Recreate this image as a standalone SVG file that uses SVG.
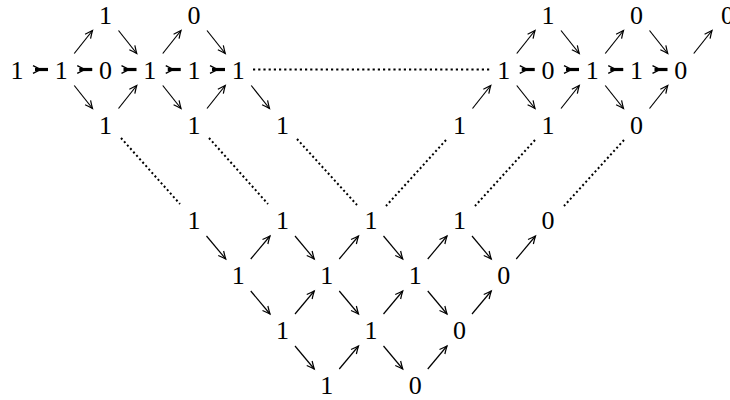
<svg xmlns="http://www.w3.org/2000/svg" xmlns:xlink="http://www.w3.org/1999/xlink" width="730" height="400" viewBox="0 0 730 400">
<style>
text{font-family:"Liberation Serif","DejaVu Serif",serif;font-size:26px;fill:#000;text-anchor:middle}
.d{stroke:#000;stroke-width:1.2;fill:none;marker-end:url(#ah)}
.dh{stroke:#000;stroke-width:2.2;stroke-dasharray:2.2 3;fill:none}
.dd{stroke:#000;stroke-width:2;stroke-dasharray:2 2.6;fill:none}
</style>
<defs>
<marker id="ah" markerUnits="userSpaceOnUse" viewBox="-9 -6 12 12" markerWidth="12" markerHeight="12" refX="0" refY="0" orient="auto">
<path d="M-7.5,-3.5 Q-2.5,-1 0,0 Q-2.5,1 -7.5,3.5" fill="none" stroke="#000" stroke-width="1.2"/>
</marker>
<g id="ha">
<path d="M0,-3.8 L7.5,0 L0,3.8" fill="none" stroke="#000" stroke-width="1.4"/>
<line x1="2" y1="0" x2="15" y2="0" stroke="#000" stroke-width="3.2"/>
</g>
</defs>
<g id="connectors">
<use xlink:href="#ha" x="33" y="69.5"/>
<use xlink:href="#ha" x="77.25" y="69.5"/>
<use xlink:href="#ha" x="121.5" y="69.5"/>
<use xlink:href="#ha" x="165.75" y="69.5"/>
<use xlink:href="#ha" x="210" y="69.5"/>
<use xlink:href="#ha" x="519.75" y="69.5"/>
<use xlink:href="#ha" x="564" y="69.5"/>
<use xlink:href="#ha" x="608.25" y="69.5"/>
<use xlink:href="#ha" x="652.5" y="69.5"/>
<line class="d" x1="74.25" y1="53.5" x2="92.5" y2="30.5"/>
<line class="d" x1="118.5" y1="30.5" x2="136.75" y2="53.5"/>
<line class="d" x1="74.25" y1="85.5" x2="92.5" y2="108.5"/>
<line class="d" x1="118.5" y1="108.5" x2="136.75" y2="85.5"/>
<line class="d" x1="162.75" y1="53.5" x2="181" y2="30.5"/>
<line class="d" x1="207" y1="30.5" x2="225.25" y2="53.5"/>
<line class="d" x1="162.75" y1="85.5" x2="181" y2="108.5"/>
<line class="d" x1="207" y1="108.5" x2="225.25" y2="85.5"/>
<line class="d" x1="251.25" y1="85.5" x2="269.5" y2="108.5"/>
<line class="d" x1="472.5" y1="108.5" x2="490.75" y2="85.5"/>
<line class="d" x1="516.75" y1="53.5" x2="535" y2="30.5"/>
<line class="d" x1="561" y1="30.5" x2="579.25" y2="53.5"/>
<line class="d" x1="516.75" y1="85.5" x2="535" y2="108.5"/>
<line class="d" x1="561" y1="108.5" x2="579.25" y2="85.5"/>
<line class="d" x1="605.25" y1="53.5" x2="623.5" y2="30.5"/>
<line class="d" x1="649.5" y1="30.5" x2="667.75" y2="53.5"/>
<line class="d" x1="605.25" y1="85.5" x2="623.5" y2="108.5"/>
<line class="d" x1="649.5" y1="108.5" x2="667.75" y2="85.5"/>
<line class="d" x1="693.75" y1="53.5" x2="712" y2="30.5"/>
<line class="d" x1="206.5" y1="236" x2="225.75" y2="259"/>
<line class="d" x1="250.75" y1="259" x2="270" y2="236"/>
<line class="d" x1="295" y1="236" x2="314.25" y2="259"/>
<line class="d" x1="339.25" y1="259" x2="358.5" y2="236"/>
<line class="d" x1="383.5" y1="236" x2="402.75" y2="259"/>
<line class="d" x1="427.75" y1="259" x2="447" y2="236"/>
<line class="d" x1="472" y1="236" x2="491.25" y2="259"/>
<line class="d" x1="516.25" y1="259" x2="535.5" y2="236"/>
<line class="d" x1="250.75" y1="291" x2="270" y2="314"/>
<line class="d" x1="295" y1="314" x2="314.25" y2="291"/>
<line class="d" x1="339.25" y1="291" x2="358.5" y2="314"/>
<line class="d" x1="383.5" y1="314" x2="402.75" y2="291"/>
<line class="d" x1="427.75" y1="291" x2="447" y2="314"/>
<line class="d" x1="472" y1="314" x2="491.25" y2="291"/>
<line class="d" x1="295" y1="346" x2="314.25" y2="369"/>
<line class="d" x1="339.25" y1="369" x2="358.5" y2="346"/>
<line class="d" x1="383.5" y1="346" x2="402.75" y2="369"/>
<line class="d" x1="427.75" y1="369" x2="447" y2="346"/>
<line class="dh" x1="253" y1="69.5" x2="492" y2="69.5"/>
<line class="dd" x1="121" y1="138" x2="180" y2="204"/>
<line class="dd" x1="209" y1="138" x2="268" y2="204"/>
<line class="dd" x1="297" y1="139" x2="357" y2="205"/>
<line class="dd" x1="446" y1="140" x2="386" y2="206"/>
<line class="dd" x1="535" y1="140" x2="475" y2="206"/>
<line class="dd" x1="624" y1="140" x2="564" y2="206"/>
</g>
<g id="n_t2"><text x="105.5" y="23.5">1</text></g>
<g id="n_t4"><text x="194" y="23.5">0</text></g>
<g id="n_m0"><text x="17" y="78.5">1</text></g>
<g id="n_m1"><text x="61.25" y="78.5">1</text></g>
<g id="n_m2"><text x="105.5" y="78.5">0</text></g>
<g id="n_m3"><text x="149.75" y="78.5">1</text></g>
<g id="n_m4"><text x="194" y="78.5">1</text></g>
<g id="n_m5"><text x="238.25" y="78.5">1</text></g>
<g id="n_b2"><text x="105.5" y="133.5">1</text></g>
<g id="n_b4"><text x="194" y="133.5">1</text></g>
<g id="n_b6"><text x="282.5" y="133.5">1</text></g>
<g id="n_t12"><text x="548" y="23.5">1</text></g>
<g id="n_t14"><text x="636.5" y="23.5">0</text></g>
<g id="n_t16"><text x="727.5" y="23.5">0</text></g>
<g id="n_m11"><text x="503.75" y="78.5">1</text></g>
<g id="n_m12"><text x="548" y="78.5">0</text></g>
<g id="n_m13"><text x="592.25" y="78.5">1</text></g>
<g id="n_m14"><text x="636.5" y="78.5">1</text></g>
<g id="n_m15"><text x="680.75" y="78.5">0</text></g>
<g id="n_b10"><text x="459.5" y="133.5">1</text></g>
<g id="n_b12"><text x="548" y="133.5">1</text></g>
<g id="n_b14"><text x="636.5" y="133.5">0</text></g>
<g id="n_l0_4"><text x="194" y="229">1</text></g>
<g id="n_l0_6"><text x="282.5" y="229">1</text></g>
<g id="n_l0_8"><text x="371" y="229">1</text></g>
<g id="n_l0_10"><text x="459.5" y="229">1</text></g>
<g id="n_l0_12"><text x="548" y="229">0</text></g>
<g id="n_l1_5"><text x="238.25" y="284">1</text></g>
<g id="n_l1_7"><text x="326.75" y="284">1</text></g>
<g id="n_l1_9"><text x="415.25" y="284">1</text></g>
<g id="n_l1_11"><text x="503.75" y="284">0</text></g>
<g id="n_l2_6"><text x="282.5" y="339">1</text></g>
<g id="n_l2_8"><text x="371" y="339">1</text></g>
<g id="n_l2_10"><text x="459.5" y="339">0</text></g>
<g id="n_l3_7"><text x="326.75" y="394">1</text></g>
<g id="n_l3_9"><text x="415.25" y="394">0</text></g>
</svg>
